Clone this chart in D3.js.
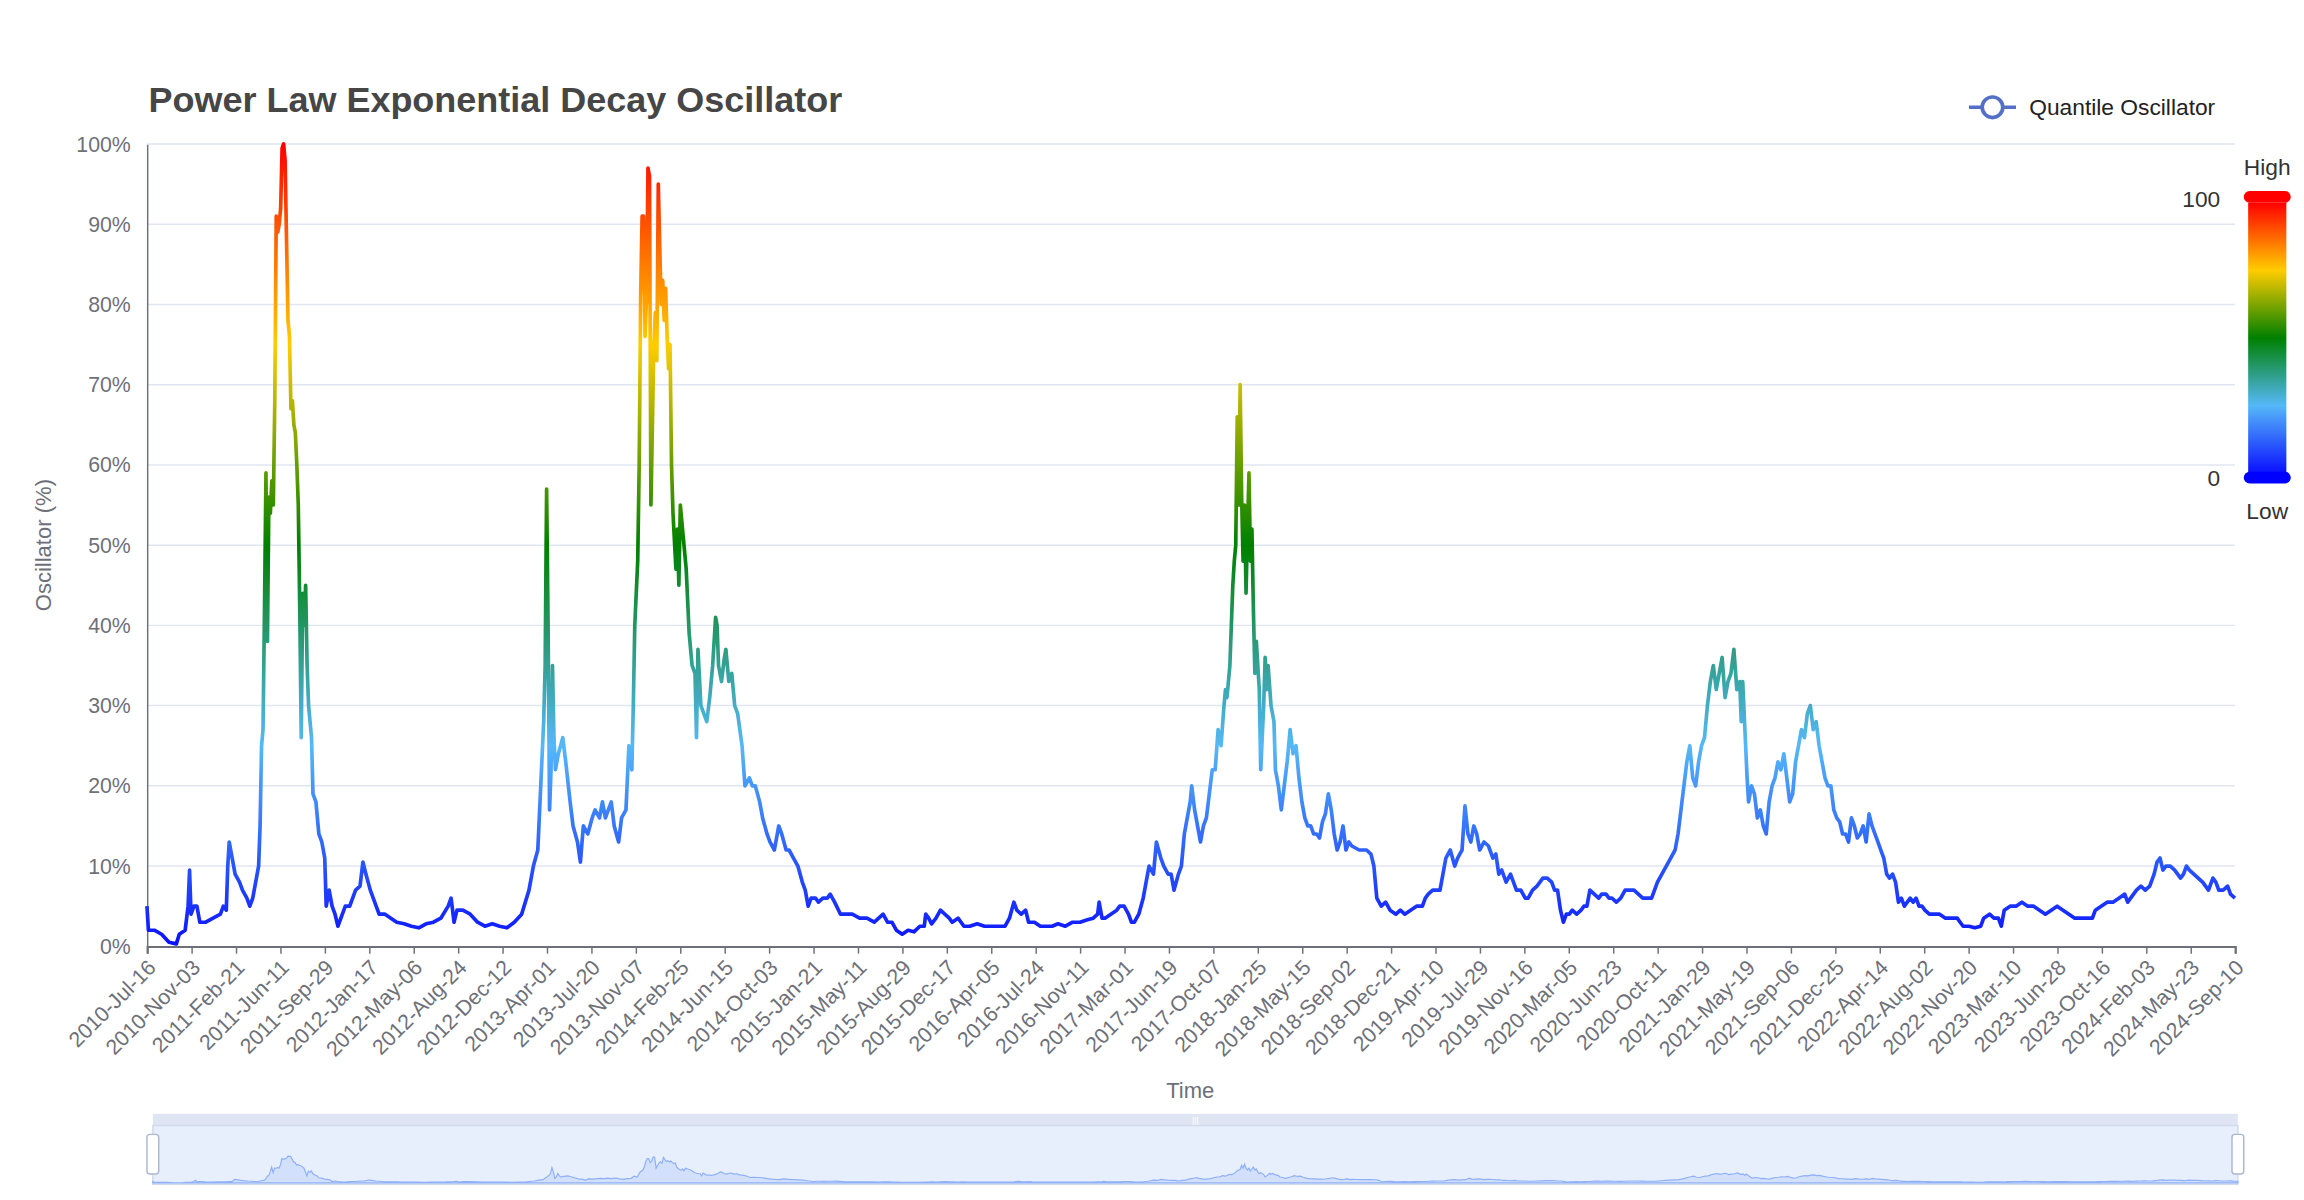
<!DOCTYPE html>
<html><head><meta charset="utf-8">
<script src="https://cdn.jsdelivr.net/npm/d3@7/dist/d3.min.js"></script>
<style>html,body{margin:0;padding:0;background:#fff;}svg{display:block;font-family:"Liberation Sans",Arial,sans-serif;}</style>
</head><body>
<svg id="c" width="2304" height="1200" viewBox="0 0 1568 816.67"></svg>
<script>
// ---- data ----
const startDate = "2010-07-16";
const endDate = "2024-09-10";
// sample position along the series (0 = start, 1421 = end) and oscillator value (%)
const samplePos = [0,1,5,10,15,20,22,26,28,29,30,32,34,36,40,45,50,52,54,55,56,58,60,63,65,68,70,72,74,76,77,78,79,80,81,82,83,84,85,86,87,88,89,90,91,92,93,94,95,96,97,98,99,100,101,102,103,104,105,106,107,108,109,110,112,113,115,117,119,121,122,124,126,128,130,133,135,138,142,145,147,149,152,154,156,158,162,166,170,175,180,185,190,195,200,205,207,209,211,215,220,225,230,235,240,245,250,255,260,263,266,268,270,271,272,273,274,275,276,277,278,280,283,285,288,290,293,295,297,300,303,305,308,310,312,314,316,318,321,323,326,328,330,331,332,334,335,336,337,338,339,340,341,342,343,344,345,346,347,348,349,350,351,352,353,354,355,356,357,358,360,361,362,363,365,367,369,371,373,374,375,377,379,381,383,385,387,388,389,391,393,394,396,398,400,402,405,407,410,412,414,417,419,422,424,427,430,432,435,437,440,443,446,448,450,452,455,457,460,463,465,468,472,476,480,485,490,495,498,501,504,507,510,514,518,522,526,529,530,532,534,537,540,543,546,548,552,556,560,565,570,575,580,584,587,590,592,595,598,600,604,608,612,616,620,625,630,635,640,644,647,648,650,652,656,660,662,665,668,670,672,675,678,680,682,685,687,690,692,695,697,699,702,704,706,708,710,711,713,715,717,719,721,723,725,727,729,731,733,734,735,737,738,739,740,741,742,743,744,745,746,747,748,749,750,751,752,753,754,755,757,758,760,761,762,763,765,767,768,770,772,774,776,778,780,782,784,786,788,790,792,794,796,798,800,802,804,806,808,810,812,814,816,818,820,825,830,833,835,837,840,843,846,850,853,856,860,864,868,870,872,875,880,882,884,887,890,892,895,897,899,901,903,905,907,910,913,916,918,920,922,925,928,930,932,935,938,940,943,946,950,953,956,958,960,962,964,966,968,970,973,976,978,980,982,985,988,990,993,995,997,1000,1003,1006,1009,1012,1015,1018,1021,1024,1026,1028,1031,1034,1037,1040,1042,1044,1046,1048,1050,1052,1054,1056,1058,1060,1062,1064,1066,1068,1070,1072,1074,1076,1078,1080,1082,1084,1085,1086,1088,1089,1090,1092,1094,1096,1098,1100,1102,1104,1106,1108,1110,1112,1114,1116,1118,1120,1122,1124,1126,1128,1130,1132,1134,1136,1138,1140,1142,1144,1146,1148,1150,1152,1154,1156,1158,1160,1162,1164,1166,1168,1170,1172,1174,1176,1178,1180,1182,1184,1186,1188,1190,1192,1194,1196,1198,1200,1202,1204,1206,1208,1210,1213,1216,1220,1224,1228,1232,1234,1236,1240,1244,1248,1250,1254,1257,1260,1262,1264,1268,1272,1276,1280,1284,1288,1292,1296,1300,1304,1308,1312,1316,1320,1324,1326,1330,1334,1338,1342,1346,1348,1350,1352,1354,1357,1360,1363,1366,1368,1370,1372,1374,1377,1380,1382,1384,1386,1388,1390,1393,1396,1399,1401,1403,1406,1408,1410,1413,1416,1418,1421];
const oscValues = [5,2,2,1.5,0.5,0.3,1.5,2,5,9.5,4,5,5,3,3,3.5,4,5,4.5,10,13,11,9,8,7,6,5,6,8,10,15,25,27,42,59,38,56,54,58,55,68,91,89,90,92,99.5,100,98,88,78,76,67,68,65,64,60,55,42,26,44,40,45,35,30,26,19,18,14,13,11,5,7,5,4,2.5,4,5,5,7,7.5,10.5,9,7,6,5,4,4,3.5,3,2.8,2.5,2.3,2.8,3,3.5,5,6,3,4.5,4.5,4,3,2.5,2.8,2.5,2.3,3,4,7,10,12,20,28,35,57,40,17,22,35,26,22,24,26,23,18,15,13,10.5,15,14,16,17,16,18,16,17,18,15,13,16,17,25,22,30,40,48,60,81,91,91,76,81,97,96,55,65,75,79,73,95,87,80,83,78,82,76,72,75,60,54,47,52,45,55,51,47,39,35,34,26,37,30,29,28,31,35,41,40,35,33,36,37,33,34,30,29,25,20,21,20,20,18,16,14,13,12,15,14,12,12,11,10,8,7,5,6,6,5.5,6,6,6.5,5.5,4,4,4,3.5,3.5,3,3.5,4,3,3,2,1.5,2,1.8,2.5,2.5,4,3.5,2.8,3.5,4.5,4,3.5,3,3.5,2.5,2.5,2.8,2.5,2.5,2.5,2.5,3.5,5.5,4.5,4,4.5,3,3,2.5,2.5,2.5,2.8,2.5,3,3,3.3,3.5,4,5.5,3.5,3.5,4,4.5,5,5,4,3,3,4,6,8,10,9,13,11,10,9,9,7,9,10,14,16,18,20,17,15,13,15,16,19,22,22,27,25,30,32,31,35,40,45,48,50,66,55,70,56,48,55,44,52,59,48,52,42,34,38,32,22,30,36,32,35,30,28,22,20,17,20,23,27,24,25,21,18,16,15,15,14,14,13.5,15.5,16.5,19,17,14,12,13,15,12,13,12.5,12,12,11.5,10,6,5,5.5,4.5,4,4.5,4,4.5,5,5,6,6.5,7,7,9,11,12,10,11,12,17.5,14,13,15,14,12,13,12.5,11,11.5,9,9.5,8,9,8,7,7,6,6,7,7.5,8.5,8.5,8,7,7,4.5,3,4,4,4.5,4,4.5,5,5,7,6.5,6,6.5,6.5,6,6,5.5,6,7,7,7,6.5,6,6,6,7,8,9,10,11,12,14,17,20,23,25,21,20,23,25,26,30,33,35,32,34,36,31,33,34,37,32,33,28,33,25,21,18,20,19,16,17,15,14,18,20,21,23,22,24,21,18,19,23,25,27,26,29,30,27,28,25,23,21,20,20,17,16,15.5,14,14,13,16,15,13.5,14,15,13,16.5,15,14,13,12,11,9,8.5,9,8,5.5,6,5,5.5,6,5.5,6,5,5,4.5,4,4,4,3.5,3.5,3.5,3,2.5,2.5,2.3,2.5,3.5,4,3.5,3.5,2.5,4.5,5,5,5.5,5,5,4.5,4,4.5,5,4.5,4,3.5,3.5,3.5,3.5,4.5,5,5.5,5.5,6,6.5,5.5,6,6.5,7,7.5,7,7.5,9,10.5,11,9.5,10,10,9.5,9,8.5,9,10,9.5,9,8.5,8,7.5,7,8.5,8,7,7,7.5,6.5,6];
const xTickLabels = ["2010-Jul-16","2010-Nov-03","2011-Feb-21","2011-Jun-11","2011-Sep-29","2012-Jan-17","2012-May-06","2012-Aug-24","2012-Dec-12","2013-Apr-01","2013-Jul-20","2013-Nov-07","2014-Feb-25","2014-Jun-15","2014-Oct-03","2015-Jan-21","2015-May-11","2015-Aug-29","2015-Dec-17","2016-Apr-05","2016-Jul-24","2016-Nov-11","2017-Mar-01","2017-Jun-19","2017-Oct-07","2018-Jan-25","2018-May-15","2018-Sep-02","2018-Dec-21","2019-Apr-10","2019-Jul-29","2019-Nov-16","2020-Mar-05","2020-Jun-23","2020-Oct-11","2021-Jan-29","2021-May-19","2021-Sep-06","2021-Dec-25","2022-Apr-14","2022-Aug-02","2022-Nov-20","2023-Mar-10","2023-Jun-28","2023-Oct-16","2024-Feb-03","2024-May-23","2024-Sep-10"];
const yTicks = [0,10,20,30,40,50,60,70,80,90,100];
const colorStops = [[0,"#0a10ff"],[0.25,"#55b8f8"],[0.5,"#008000"],[0.75,"#ffcc00"],[1,"#ff0000"]];

// ---- build ----
const parse = d3.timeParse("%Y-%m-%d");
const t0 = parse(startDate), t1 = parse(endDate);
const maxPos = samplePos[samplePos.length-1];
const data = samplePos.map((p,i)=>({date:new Date(+t0 + (t1-t0)*p/maxPos), v:oscValues[i]}));
const tickDates = xTickLabels.map(s=>d3.timeParse("%Y-%b-%d")(s));

const svg = d3.select("#c");
const L=100, R=1521, T=98, B=644;
const x = d3.scaleTime().domain([t0,t1]).range([L,R]);
const y = d3.scaleLinear().domain([0,100]).range([B,T]);

svg.append("g").selectAll("line").data(yTicks.slice(1)).join("line")
  .attr("x1",L).attr("x2",R).attr("y1",d=>y(d)).attr("y2",d=>y(d))
  .attr("stroke","#e0e6f1").attr("stroke-width",1);

const ya = svg.append("g").attr("transform",`translate(${L},0)`)
  .call(d3.axisLeft(y).tickValues(yTicks).tickFormat(d=>d+"%").tickSize(0).tickPadding(11));
ya.select(".domain").attr("stroke","#6e7079");
ya.selectAll("text").attr("fill","#6e7079").style("font-size","14.5px");

const xa = svg.append("g").attr("transform",`translate(0,${B})`)
  .call(d3.axisBottom(x).tickValues(tickDates).tickFormat(d3.timeFormat("%Y-%b-%d")).tickSize(5).tickPadding(4));
xa.select(".domain").attr("stroke","#6e7079").attr("stroke-width",1.5);
xa.selectAll(".tick line").attr("stroke","#6e7079");
xa.selectAll("text").attr("fill","#6e7079").style("font-size","14.5px")
  .attr("text-anchor","end").attr("dy","0.3em").attr("transform","translate(-3,6) rotate(-45)");

const defs = svg.append("defs");
const gr = defs.append("linearGradient").attr("id","g1").attr("gradientUnits","userSpaceOnUse")
  .attr("x1",0).attr("x2",0).attr("y1",y(0)).attr("y2",y(100));
colorStops.forEach(s=>gr.append("stop").attr("offset",s[0]).attr("stop-color",s[1]));
const gr2 = defs.append("linearGradient").attr("id","g2").attr("x1",0).attr("x2",0).attr("y1",1).attr("y2",0);
colorStops.forEach(s=>gr2.append("stop").attr("offset",s[0]).attr("stop-color",s[1]));

svg.append("path").datum(data).attr("fill","none").attr("stroke","url(#g1)")
  .attr("stroke-width",2.5).attr("stroke-linejoin","round")
  .attr("d",d3.line().x(d=>x(d.date)).y(d=>y(d.v)));

svg.append("text").attr("x",101).attr("y",76).text("Power Law Exponential Decay Oscillator")
  .attr("fill","#464646").style("font-size","24.5px").style("font-weight","bold");
svg.append("text").attr("transform","translate(35,371) rotate(-90)").attr("text-anchor","middle")
  .text("Oscillator (%)").attr("fill","#6e7079").style("font-size","15px");
svg.append("text").attr("x",810).attr("y",747).attr("text-anchor","middle")
  .text("Time").attr("fill","#6e7079").style("font-size","15px");

const lg = svg.append("g");
lg.append("line").attr("x1",1340).attr("x2",1372).attr("y1",73).attr("y2",73).attr("stroke","#5470c6").attr("stroke-width",2.5);
lg.append("circle").attr("cx",1356).attr("cy",73).attr("r",7).attr("fill","#fff").attr("stroke","#5470c6").attr("stroke-width",2.5);
lg.append("text").attr("x",1381).attr("y",78.5).text("Quantile Oscillator").attr("fill","#222").style("font-size","15.5px");

const vm = svg.append("g");
vm.append("rect").attr("x",1530).attr("y",138).attr("width",26).attr("height",184).attr("fill","url(#g2)");
vm.append("rect").attr("x",1527).attr("y",130).attr("width",32).attr("height",8).attr("rx",4).attr("fill","#ff0000");
vm.append("rect").attr("x",1527).attr("y",321).attr("width",32).attr("height",8).attr("rx",4).attr("fill","#0000ff");
vm.append("text").attr("x",1543).attr("y",119).attr("text-anchor","middle").text("High").attr("fill","#333").style("font-size","15.5px");
vm.append("text").attr("x",1543).attr("y",353).attr("text-anchor","middle").text("Low").attr("fill","#333").style("font-size","15.5px");
vm.append("text").attr("x",1511).attr("y",141).attr("text-anchor","end").text("100").attr("fill","#333").style("font-size","15.5px");
vm.append("text").attr("x",1511).attr("y",331).attr("text-anchor","end").text("0").attr("fill","#333").style("font-size","15.5px");

const dz = svg.append("g");
const ZL=104, ZR=1523, ZT=766, ZB=806;
dz.append("rect").attr("x",ZL).attr("y",758).attr("width",ZR-ZL).attr("height",8).attr("fill","#dfe5f3");
dz.append("text").attr("x",(ZL+ZR)/2).attr("y",765).attr("text-anchor","middle").text("|||").attr("fill","#fff").style("font-size","6px");
dz.append("rect").attr("x",ZL).attr("y",ZT).attr("width",ZR-ZL).attr("height",ZB-ZT).attr("fill","#e7eefc").attr("stroke","#d2dbee");
const xz = d3.scaleTime().domain([t0,t1]).range([ZL,ZR]);
const yz = d3.scaleLinear().domain([0,100]).range([ZB-1,ZT+6]);
dz.append("path").datum(data).attr("fill","#d2e0fb").attr("stroke","#8fb0f7").attr("stroke-width",0.8)
  .attr("d",d3.area().x(d=>xz(d.date)).y0(ZB-1).y1(d=>yz(d.v*0.55)));
[ZL,ZR].forEach(hx=>dz.append("rect").attr("x",hx-4).attr("y",772).attr("width",8).attr("height",27).attr("rx",2)
  .attr("fill","#fff").attr("stroke","#acb8d1"));
</script>
</body></html>
